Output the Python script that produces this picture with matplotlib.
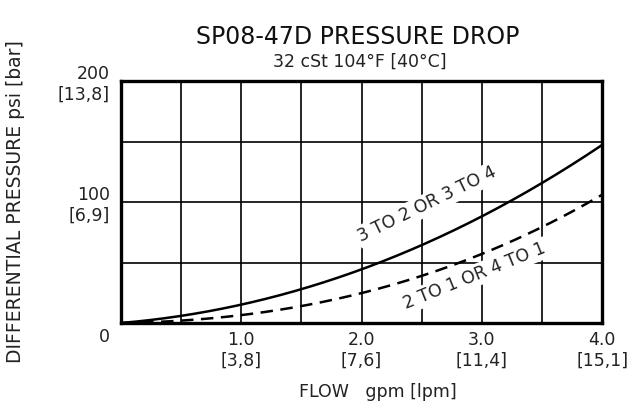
import matplotlib
matplotlib.use("Agg")
import matplotlib.pyplot as plt
import numpy as np

# flow in gpm, pressure drop in psi
flow = [0.0, 0.5, 1.0, 1.5, 2.0, 2.5, 3.0, 3.5, 4.0]
drop_3to2 = [0.0, 5.8, 15.5, 28.0, 44.0, 64.5, 88.0, 116.0, 147.0]
drop_2to1 = [0.0, 2.0, 6.6, 14.0, 25.0, 38.0, 58.0, 79.0, 106.0]

x_ticks = [1.0, 2.0, 3.0, 4.0]
x_labels = ["1.0\n[3,8]", "2.0\n[7,6]", "3.0\n[11,4]", "4.0\n[15,1]"]
y_ticks = [0, 100, 200]
y_labels = ["\n0", "100\n[6,9]", "200\n[13,8]"]

plt.rcParams["font.family"] = ["DejaVu Sans"]

fig = plt.figure(figsize=(6.38, 4.11), dpi=100)
ax = fig.add_axes([0.1897, 0.2141, 0.754, 0.5888])

# smooth curves through the read points
xs = np.linspace(0, 4, 200)
c1 = np.polyfit(flow, drop_3to2, 3)
c2 = np.polyfit(flow, drop_2to1, 3)
ax.plot(xs, np.clip(np.polyval(c1, xs), 0, None), color="black", lw=1.8, zorder=3)
ax.plot(xs, np.clip(np.polyval(c2, xs), 0, None), color="black", lw=1.8,
        dashes=(5, 3), zorder=3)

ax.set_xlim(0, 4)
ax.set_ylim(0, 200)
ax.set_xticks(x_ticks)
ax.set_xticklabels(x_labels, fontsize=12.5, color="#222222")
ax.set_yticks(y_ticks)
ax.set_yticklabels(y_labels, fontsize=12.5, color="#222222")
for lab in ax.get_yticklabels():
    lab.set_multialignment("right")
ax.set_xticks(np.arange(0, 4.01, 0.5), minor=True)
ax.set_yticks(np.arange(0, 201, 50), minor=True)
ax.tick_params(which="both", length=0)
ax.tick_params(axis="x", pad=6)
ax.tick_params(axis="y", pad=8)
ax.grid(which="both", color="black", lw=1.2, zorder=1)
for s in ax.spines.values():
    s.set_linewidth(2.4)

box = dict(facecolor="white", edgecolor="none", pad=1.5)
ax.text(2.545, 98, "3 TO 2 OR 3 TO 4", rotation=26, ha="center", va="center",
        fontsize=12.5, color="#222222", bbox=box, zorder=2)
ax.text(2.94, 39, "2 TO 1 OR 4 TO 1", rotation=22, ha="center", va="center",
        fontsize=12.5, color="#222222", bbox=box, zorder=2)

fig.text(0.561, 0.91, "SP08-47D PRESSURE DROP", ha="center", va="center",
         fontsize=17, color="#111111")
fig.text(0.564, 0.849, "32 cSt 104°F [40°C]", ha="center", va="center",
         fontsize=12.5, color="#222222")
fig.text(0.592, 0.046, "FLOW   gpm [lpm]", ha="center", va="center",
         fontsize=12.5, color="#222222")
fig.text(0.024, 0.51, "DIFFERENTIAL PRESSURE psi [bar]", rotation=90,
         ha="center", va="center", fontsize=13.5, color="#222222")

fig.savefig("out.png", dpi=100)
